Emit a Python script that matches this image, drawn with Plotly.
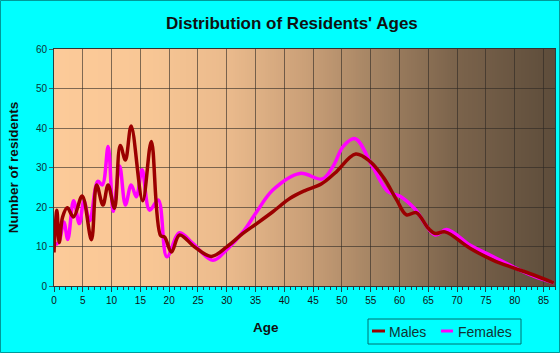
import base64, struct, zlib
import plotly.graph_objects as go

# ---- data ----
male_age = [0, 0.5, 0.9, 1.5, 2.3, 3.4, 4.9, 6.5, 7.4, 8.5, 9.4, 10.5, 11.5, 12.4, 13.4,
            15.4, 16.9, 18.5, 19.2, 20.4, 21.8, 24.4, 27.3, 30, 32.8, 35.2, 38, 41, 43.5,
            46.4, 48.8, 52.4, 54.9, 57.2, 59.5, 61.2, 62.9, 65, 66.2, 67.9, 72.3, 76.3,
            79.8, 82.7, 86.8]
male_val = [8.5, 19.2, 11.0, 17.5, 19.8, 17.5, 22.8, 11.7, 25.6, 20.5, 25.6, 19.7, 35.6, 31.9, 40.5,
            21.6, 36.6, 12.8, 12.4, 8.6, 12.9, 9.9, 7.5, 9.9, 13.3, 15.8, 18.8, 22.2, 24.1,
            25.8, 28.6, 33.4, 31.5, 27.5, 21.8, 18.0, 18.6, 14.6, 13.3, 13.7, 9.5, 6.5,
            4.6, 3.1, 0.8]

female_age = [0, 0.8, 1.7, 2.4, 3.4, 4.4, 5.2, 6.2, 7.6, 8.4, 9.4, 10.3, 11.4, 12.4, 13.4,
              14.3, 15.3, 16.6, 18.1, 19.6, 21.8, 24.1, 27.6, 30, 33, 35.2, 38, 42.7, 46.6,
              48.5, 50.2, 52.3, 55.4, 58, 60.1, 62.6, 66.2, 68.2, 72.3, 76.3, 79.8, 83.3, 86.8]
female_val = [10.5, 11.0, 16.2, 11.8, 21.6, 15.8, 21.5, 16.5, 26.5, 25.6, 35.3, 18.9, 30.4, 20.5, 25.6,
              22.6, 29.4, 19.2, 21.8, 7.4, 13.5, 10.8, 6.5, 9.2, 14.0, 18.8, 24.3, 28.5, 27.1,
              30.4, 35.3, 37.3, 30.0, 23.9, 22.7, 19.6, 12.9, 14.3, 10.3, 7.4, 4.8, 2.5, 0.8]

x_ticks = list(range(0, 90, 5))
y_ticks = list(range(0, 70, 10))

# ---- background gradient image (style only) ----
stops = [(0.0, (252, 202, 153)), (0.18, (249, 199, 149)), (0.35, (234, 186, 140)),
         (0.5, (203, 160, 120)), (0.65, (162, 130, 98)), (0.8, (124, 100, 76)),
         (1.0, (94, 77, 59))]


def lerp_color(t):
    for (t0, c0), (t1, c1) in zip(stops[:-1], stops[1:]):
        if t0 <= t <= t1:
            f = (t - t0) / (t1 - t0)
            return tuple(int(round(a + (b - a) * f)) for a, b in zip(c0, c1))
    return stops[-1][1]


def gradient_png(w=256):
    row = bytearray([0])
    for i in range(w):
        row.extend(lerp_color(i / (w - 1)))
    raw = bytes(row)

    def chunk(tag, data):
        c = struct.pack(">I", len(data)) + tag + data
        return c + struct.pack(">I", zlib.crc32(tag + data) & 0xFFFFFFFF)

    png = b"\x89PNG\r\n\x1a\n"
    png += chunk(b"IHDR", struct.pack(">IIBBBBB", w, 1, 8, 2, 0, 0, 0))
    png += chunk(b"IDAT", zlib.compress(raw, 9))
    png += chunk(b"IEND", b"")
    return "data:image/png;base64," + base64.b64encode(png).decode()


FONT = "Liberation Sans, Arial, sans-serif"
BG = "#00FFFF"
TEAL = "#007070"
TICKTXT = "#0a3434"
L, R, T, B = 54, 5, 49, 67
W, H = 560, 353
PW, PH = W - L - R, H - T - B


def px(p):
    return (p - L) / PW


def py(p):
    return (H - B - p) / PH


fig = go.Figure()
fig.add_trace(go.Scatter(x=female_age, y=female_val, mode="lines", name="Females",
                         line=dict(color="#FF00FF", width=3.5, shape="spline", smoothing=1.0),
                         hoverinfo="x+y"))
fig.add_trace(go.Scatter(x=male_age, y=male_val, mode="lines", name="Males",
                         line=dict(color="#9B0000", width=3.5, shape="spline", smoothing=1.0),
                         hoverinfo="x+y"))

grid = "rgba(45,40,35,0.6)"
fig.update_layout(
    width=W, height=H, margin=dict(l=L, r=R, t=T, b=B),
    paper_bgcolor=BG, plot_bgcolor="rgba(0,0,0,0)",
    showlegend=False,
    font=dict(family=FONT, color="#111111"),
    xaxis=dict(range=[0, 87], tickvals=x_ticks, ticktext=[str(v) for v in x_ticks],
               showgrid=True, gridcolor=grid, gridwidth=1,
               ticks="outside", ticklen=5, tickcolor="#224444", tickwidth=1,
               minor=dict(dtick=1, tick0=0, ticks="outside", ticklen=3, tickcolor="#224444", showgrid=False),
               showline=True, linecolor="#333333", linewidth=1, mirror=True,
               tickfont=dict(size=10, color="#111111"), zeroline=False, fixedrange=True),
    yaxis=dict(range=[0, 60], tickvals=y_ticks, ticktext=[str(v) for v in y_ticks],
               showgrid=True, gridcolor=grid, gridwidth=1,
               ticks="outside", ticklen=4, tickcolor="#336666",
               showline=True, linecolor="#224444", linewidth=1, mirror=True,
               tickfont=dict(size=10, color=TICKTXT), zeroline=False, fixedrange=True,
               title=dict(text="<b>Number of residents</b>", font=dict(size=13.5, color="#111111"), standoff=14)),
    images=[dict(source=gradient_png(), xref="x", yref="y", x=0, y=60, sizex=87, sizey=60,
                 sizing="stretch", layer="below", xanchor="left", yanchor="top")],
)

# title
fig.add_annotation(text="<b>Distribution of Residents' Ages</b>", xref="paper", yref="paper",
                   x=px(291.5), y=py(23), showarrow=False, xanchor="center", yanchor="middle",
                   font=dict(size=17, color="#111111", family=FONT))
# x-axis title
fig.add_annotation(text="<b>Age</b>", xref="paper", yref="paper", x=px(266), y=py(327),
                   showarrow=False, xanchor="center", yanchor="middle",
                   font=dict(size=13.5, color="#111111", family=FONT))

# manual legend
fig.add_shape(type="rect", xref="paper", yref="paper", x0=px(368), x1=px(521), y0=py(319), y1=py(344),
              line=dict(color=TEAL, width=1), fillcolor="rgba(0,0,0,0)")
fig.add_shape(type="line", xref="paper", yref="paper", x0=px(372), x1=px(385), y0=py(331), y1=py(331),
              line=dict(color="#9B0000", width=3))
fig.add_shape(type="line", xref="paper", yref="paper", x0=px(441), x1=px(453), y0=py(331), y1=py(331),
              line=dict(color="#FF00FF", width=3))
fig.add_annotation(text="Males", xref="paper", yref="paper", x=px(387), y=py(331.5), showarrow=False,
                   xanchor="left", yanchor="middle", font=dict(size=14, color="#113333", family=FONT))
fig.add_annotation(text="Females", xref="paper", yref="paper", x=px(456), y=py(331.5), showarrow=False,
                   xanchor="left", yanchor="middle", font=dict(size=14, color="#113333", family=FONT))

# outer border
fig.add_shape(type="rect", xref="paper", yref="paper", x0=px(0.5), x1=px(559.5), y0=py(352.5), y1=py(0.5),
              line=dict(color="#009999", width=1), fillcolor="rgba(0,0,0,0)", layer="above")

fig.write_html("out.html")
